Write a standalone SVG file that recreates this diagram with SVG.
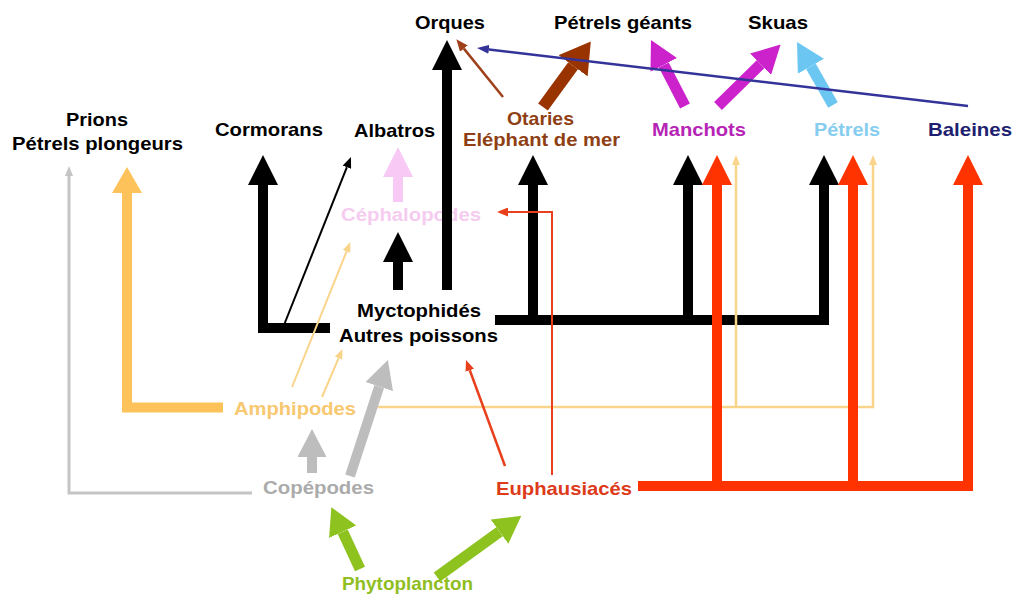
<svg xmlns="http://www.w3.org/2000/svg" width="1016" height="605" viewBox="0 0 1016 605">
<style>
text{font-family:"Liberation Sans",Arial,sans-serif;font-weight:bold;font-size:19px;text-anchor:middle}
.c path{fill:none;stroke-linejoin:miter}
</style>
<defs>
<marker id="hBlack" markerUnits="userSpaceOnUse" markerWidth="30" markerHeight="30" viewBox="0 0 30 30" refX="0" refY="15" orient="auto"><path d="M0,0 L30,15 L0,30 z" fill="#000"/></marker>
<marker id="hRed" markerUnits="userSpaceOnUse" markerWidth="30" markerHeight="30" viewBox="0 0 30 30" refX="0" refY="15" orient="auto"><path d="M0,0 L30,15 L0,30 z" fill="#FF3300"/></marker>
<marker id="hOrange" markerUnits="userSpaceOnUse" markerWidth="26" markerHeight="30" viewBox="0 0 26 30" refX="0" refY="15" orient="auto"><path d="M0,0 L26,15 L0,30 z" fill="#FDC35A"/></marker>
<marker id="hPink" markerUnits="userSpaceOnUse" markerWidth="30" markerHeight="30" viewBox="0 0 30 30" refX="0" refY="15" orient="auto"><path d="M0,0 L30,15 L0,30 z" fill="#F9C9F6"/></marker>
<marker id="hGray" markerUnits="userSpaceOnUse" markerWidth="28" markerHeight="29" viewBox="0 0 28 29" refX="0" refY="14.5" orient="auto"><path d="M0,0 L28,14.5 L0,29 z" fill="#BDBDBD"/></marker>
<marker id="hGreen" markerUnits="userSpaceOnUse" markerWidth="27" markerHeight="30" viewBox="0 0 27 30" refX="0" refY="15" orient="auto"><path d="M0,0 L27,15 L0,30 z" fill="#8DC21F"/></marker>
<marker id="hBrown" markerUnits="userSpaceOnUse" markerWidth="30" markerHeight="36" viewBox="0 0 30 36" refX="0" refY="18" orient="auto"><path d="M0,0 L30,18 L0,36 z" fill="#993300"/></marker>
<marker id="hMagenta" markerUnits="userSpaceOnUse" markerWidth="28" markerHeight="30" viewBox="0 0 28 30" refX="0" refY="15" orient="auto"><path d="M0,0 L28,15 L0,30 z" fill="#CC22CC"/></marker>
<marker id="hBlue" markerUnits="userSpaceOnUse" markerWidth="28" markerHeight="30" viewBox="0 0 28 30" refX="0" refY="15" orient="auto"><path d="M0,0 L28,15 L0,30 z" fill="#6CC6F2"/></marker>
<marker id="tBlack" markerUnits="userSpaceOnUse" markerWidth="11" markerHeight="9" viewBox="0 0 11 9" refX="0" refY="4.5" orient="auto"><path d="M0,0 L11,4.5 L0,9 z" fill="#000"/></marker>
<marker id="tRed" markerUnits="userSpaceOnUse" markerWidth="11" markerHeight="9" viewBox="0 0 11 9" refX="0" refY="4.5" orient="auto"><path d="M0,0 L11,4.5 L0,9 z" fill="#E8401C"/></marker>
<marker id="tOrange" markerUnits="userSpaceOnUse" markerWidth="10" markerHeight="8" viewBox="0 0 10 8" refX="0" refY="4" orient="auto"><path d="M0,0 L10,4 L0,8 z" fill="#F9D48A"/></marker>
<marker id="tGray" markerUnits="userSpaceOnUse" markerWidth="10" markerHeight="8" viewBox="0 0 10 8" refX="0" refY="4" orient="auto"><path d="M0,0 L10,4 L0,8 z" fill="#C4C4C4"/></marker>
<marker id="tBrown" markerUnits="userSpaceOnUse" markerWidth="12" markerHeight="10" viewBox="0 0 12 10" refX="0" refY="5" orient="auto"><path d="M0,0 L12,5 L0,10 z" fill="#A0401A"/></marker>
<marker id="tNavy" markerUnits="userSpaceOnUse" markerWidth="12" markerHeight="9" viewBox="0 0 12 9" refX="0" refY="4.5" orient="auto"><path d="M0,0 L12,4.5 L0,9 z" fill="#333399"/></marker>
</defs>
<rect width="1016" height="605" fill="#fff"/>

<g id="node-prions"><text x="97" y="126" textLength="62" lengthAdjust="spacingAndGlyphs">Prions</text><text x="97.5" y="150" textLength="171" lengthAdjust="spacingAndGlyphs">Pétrels plongeurs</text></g>
<g id="node-orques"><text x="450" y="29" textLength="70" lengthAdjust="spacingAndGlyphs">Orques</text></g>
<g id="node-petrels-geants"><text x="623" y="29" textLength="138" lengthAdjust="spacingAndGlyphs">Pétrels géants</text></g>
<g id="node-skuas"><text x="778" y="29" textLength="60" lengthAdjust="spacingAndGlyphs">Skuas</text></g>
<g id="node-cormorans"><text x="269" y="136" textLength="108" lengthAdjust="spacingAndGlyphs">Cormorans</text></g>
<g id="node-albatros"><text x="394.5" y="137" textLength="81" lengthAdjust="spacingAndGlyphs">Albatros</text></g>
<g id="node-otaries" fill="#8F3F14" style="font-size:18.5px"><text x="540.5" y="124.5" textLength="67" lengthAdjust="spacingAndGlyphs">Otaries</text><text x="541.5" y="146" textLength="157" lengthAdjust="spacingAndGlyphs">Eléphant de mer</text></g>
<g id="node-manchots" fill="#B624B6"><text x="699" y="136" textLength="94" lengthAdjust="spacingAndGlyphs">Manchots</text></g>
<g id="node-petrels" fill="#86CDEF"><text x="847" y="136" textLength="66" lengthAdjust="spacingAndGlyphs">Pétrels</text></g>
<g id="node-baleines" fill="#1F1F70"><text x="970" y="136" textLength="84" lengthAdjust="spacingAndGlyphs">Baleines</text></g>
<g id="node-cephalopodes" fill="#F5CCF0"><text x="411" y="221" textLength="140" lengthAdjust="spacingAndGlyphs">Céphalopodes</text></g>
<g id="node-myctophides"><text x="419" y="317" textLength="124" lengthAdjust="spacingAndGlyphs">Myctophidés</text><text x="418.5" y="342" textLength="159" lengthAdjust="spacingAndGlyphs">Autres poissons</text></g>
<g id="node-amphipodes" fill="#F8C870"><text x="295" y="415" textLength="122" lengthAdjust="spacingAndGlyphs">Amphipodes</text></g>
<g id="node-copepodes" fill="#ABABAB"><text x="318.5" y="494" textLength="111" lengthAdjust="spacingAndGlyphs">Copépodes</text></g>
<g id="node-euphausiaces" fill="#DD3A1A"><text x="564" y="495" textLength="136" lengthAdjust="spacingAndGlyphs">Euphausiacés</text></g>
<g id="node-phytoplancton" fill="#8FBE22"><text x="407.5" y="590" textLength="131" lengthAdjust="spacingAndGlyphs">Phytoplancton</text></g>

<g id="connectors" class="c">
<!-- Myctophides (black) -->
<path d="M330 328 H263 V185" stroke="#000" stroke-width="10" marker-end="url(#hBlack)"/>
<path d="M284 325 L346.9 167.2" stroke="#000" stroke-width="2" marker-end="url(#tBlack)"/>
<path d="M398 290 V262" stroke="#000" stroke-width="10" marker-end="url(#hBlack)"/>
<path d="M447 290 V70" stroke="#000" stroke-width="10" marker-end="url(#hBlack)"/>
<path d="M495 320 H824 V185" stroke="#000" stroke-width="10" marker-end="url(#hBlack)"/>
<path d="M533 320 V185" stroke="#000" stroke-width="10" marker-end="url(#hBlack)"/>
<path d="M688 320 V185" stroke="#000" stroke-width="10" marker-end="url(#hBlack)"/>
<!-- Cephalopodes -->
<path d="M398 202 V177" stroke="#F9C9F6" stroke-width="10" marker-end="url(#hPink)"/>
<!-- Amphipodes (orange) -->
<path d="M223 407.5 H127 V193" stroke="#FDC35A" stroke-width="10" marker-end="url(#hOrange)"/>
<path d="M292 387 L346.6 251.4" stroke="#F9D48A" stroke-width="2" marker-end="url(#tOrange)"/>
<path d="M322 397 L338.5 358.3" stroke="#F9D48A" stroke-width="2" marker-end="url(#tOrange)"/>
<path d="M378 407 H873 V165" stroke="#F9D48A" stroke-width="2.5" marker-end="url(#tOrange)"/>
<path d="M736 407 V165" stroke="#F9D48A" stroke-width="2.5" marker-end="url(#tOrange)"/>
<!-- Copepodes (gray) -->
<path d="M252 493 H69 V176" stroke="#C4C4C4" stroke-width="3" marker-end="url(#tGray)"/>
<path d="M312 473 V457" stroke="#BDBDBD" stroke-width="10" marker-end="url(#hGray)"/>
<path d="M350 476 L379.2 386.6" stroke="#BDBDBD" stroke-width="10" marker-end="url(#hGray)"/>
<!-- Euphausiaces (red) -->
<path d="M552 475 V212 H508" stroke="#E8401C" stroke-width="2" marker-end="url(#tRed)"/>
<path d="M505 466 L469.8 370.3" stroke="#E8401C" stroke-width="2.5" marker-end="url(#tRed)"/>
<path d="M638 486 H968 V185" stroke="#FF3300" stroke-width="10" marker-end="url(#hRed)"/>
<path d="M717 486 V185" stroke="#FF3300" stroke-width="10" marker-end="url(#hRed)"/>
<path d="M853 486 V185" stroke="#FF3300" stroke-width="10" marker-end="url(#hRed)"/>
<!-- Phytoplancton (green) -->
<path d="M360 569 L342.7 531.7" stroke="#8DC21F" stroke-width="11" marker-end="url(#hGreen)"/>
<path d="M437 577 L499.5 531.7" stroke="#8DC21F" stroke-width="11" marker-end="url(#hGreen)"/>
<!-- Otaries (brown) -->
<path d="M503 97 L463.9 48.6" stroke="#A0401A" stroke-width="2.5" marker-end="url(#tBrown)"/>
<path d="M543 107 L573.1 65.8" stroke="#993300" stroke-width="12" marker-end="url(#hBrown)"/>
<!-- Manchots (magenta) -->
<path d="M685 106 L663.8 64.9" stroke="#CC22CC" stroke-width="11" marker-end="url(#hMagenta)"/>
<path d="M718 106 L760.6 64.2" stroke="#CC22CC" stroke-width="11" marker-end="url(#hMagenta)"/>
<!-- Petrels (blue) -->
<path d="M833 105 L810.9 66.3" stroke="#6CC6F2" stroke-width="11" marker-end="url(#hBlue)"/>
<!-- Baleines (navy) -->
<path d="M968 106 L488.9 49.4" stroke="#333399" stroke-width="2.5" marker-end="url(#tNavy)"/>
</g>
</svg>
